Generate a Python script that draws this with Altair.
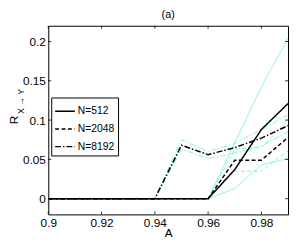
import altair as alt
import pandas as pd

A = [0.90, 0.91, 0.92, 0.93, 0.94, 0.95, 0.96, 0.97, 0.98, 0.99]

r512 = [0, 0, 0, 0, 0, 0, 0, 0.037, 0.088, 0.121]
r512_hi = [0, 0, 0, 0, 0, 0, 0, 0.071, 0.142, 0.204]
r512_lo = [0, 0, 0, 0, 0, 0, 0, 0.013, 0.043, 0.051]

r2048 = [0, 0, 0, 0, 0, 0, 0, 0.049, 0.049, 0.078]
r2048_hi = [0, 0, 0, 0, 0, 0, 0, 0.063, 0.065, 0.100]
r2048_lo = [0, 0, 0, 0, 0, 0, 0, 0.035, 0.035, 0.061]

r8192 = [0, 0, 0, 0, 0, 0.068, 0.056, 0.065, 0.077, 0.093]
r8192_hi = [0, 0, 0, 0, 0, 0.075, 0.060, 0.070, 0.088, 0.107]
r8192_lo = [0, 0, 0, 0, 0, 0.063, 0.051, 0.058, 0.067, 0.085]

labels = ["N=512", "N=2048", "N=8192"]
xticks = [0.90, 0.92, 0.94, 0.96, 0.98]
yticks = [0, 0.05, 0.10, 0.15, 0.20]

means = {"N=512": r512, "N=2048": r2048, "N=8192": r8192}
bands = {
    "N=512": (r512_hi, r512_lo),
    "N=2048": (r2048_hi, r2048_lo),
    "N=8192": (r8192_hi, r8192_lo),
}

rows_m, rows_b = [], []
for n in labels:
    for a, v in zip(A, means[n]):
        rows_m.append({"A": a, "R": v, "N": n})
    hi, lo = bands[n]
    for a, v in zip(A, hi):
        rows_b.append({"A": a, "R": v, "N": n, "g": n + "hi"})
    for a, v in zip(A, lo):
        rows_b.append({"A": a, "R": v, "N": n, "g": n + "lo"})
dm = pd.DataFrame(rows_m)
db = pd.DataFrame(rows_b)

FONT = "Liberation Sans"
W, H = 244, 192

xs = alt.Scale(domain=[0.9, 0.99], nice=False, zero=False)
ys = alt.Scale(domain=[-0.02, 0.22], nice=False, zero=False)
dash = alt.Scale(domain=labels, range=[[1, 0], [4, 2.5], [6, 2, 1.5, 2]])

xaxis = alt.Axis(values=xticks, format="~g", ticks=False, domain=False, grid=False,
                 labelFont=FONT, labelFontSize=12, labelColor="black", labelPadding=3,
                 labelFlush=False,
                 title="A", titleFont=FONT, titleFontSize=12, titleFontWeight="normal",
                 titleColor="black", titlePadding=0)
yaxis = alt.Axis(values=yticks, format="~g", ticks=False, domain=False, grid=False,
                 labelFont=FONT, labelFontSize=12, labelColor="black", labelPadding=3,
                 labelFlush=False, title=None)

legend = alt.Legend(title=None, orient="none", legendX=3, legendY=73,
                    strokeColor="black", fillColor="white", padding=3,
                    symbolType="stroke", symbolSize=400, symbolStrokeWidth=1.5,
                    symbolStrokeColor="black", labelFont=FONT, labelFontSize=10.5,
                    labelColor="black", rowPadding=1, labelOffset=2,
                    cornerRadius=0)

band_layer = alt.Chart(db).mark_line(strokeWidth=1, color="#7ff5dc", clip=True).encode(
    x=alt.X("A:Q", scale=xs, axis=xaxis),
    y=alt.Y("R:Q", scale=ys, axis=yaxis),
    strokeDash=alt.StrokeDash("N:N", scale=dash, sort=labels, legend=legend),
    detail="g:N",
)

mean_layer = alt.Chart(dm).mark_line(strokeWidth=1.5, color="black", clip=True).encode(
    x=alt.X("A:Q", scale=xs),
    y=alt.Y("R:Q", scale=ys),
    strokeDash=alt.StrokeDash("N:N", scale=dash, sort=labels, legend=legend),
)

dx = pd.DataFrame({"t": xticks})
dy = pd.DataFrame({"t": yticks})
tick_b = alt.Chart(dx).mark_rule(color="black", strokeWidth=0.8).encode(
    x=alt.X("t:Q", scale=xs), y=alt.value(H), y2=alt.value(H - 3))
tick_t = alt.Chart(dx).mark_rule(color="black", strokeWidth=0.8).encode(
    x=alt.X("t:Q", scale=xs), y=alt.value(0), y2=alt.value(3))
tick_l = alt.Chart(dy).mark_rule(color="black", strokeWidth=0.8).encode(
    y=alt.Y("t:Q", scale=ys), x=alt.value(0), x2=alt.value(3))
tick_r = alt.Chart(dy).mark_rule(color="black", strokeWidth=0.8).encode(
    y=alt.Y("t:Q", scale=ys), x=alt.value(W), x2=alt.value(W - 3))

ylab = pd.DataFrame({"s": ["R"]})
ysub = pd.DataFrame({"s": ["X \u2192 Y"]})
ytitle = alt.Chart(ylab).mark_text(angle=270, font=FONT, fontSize=12, color="black").encode(
    text="s:N", x=alt.value(-35), y=alt.value(96))
ytitle_sub = alt.Chart(ysub).mark_text(angle=270, font=FONT, fontSize=9, color="black").encode(
    text="s:N", x=alt.value(-28), y=alt.value(77))

chart = alt.layer(
    band_layer, mean_layer, tick_b, tick_t, tick_l, tick_r, ytitle, ytitle_sub
).properties(
    width=W, height=H,
    autosize="none",
    padding={"left": 41, "top": 16, "right": 1, "bottom": 26},
    title=alt.TitleParams("(a)", font=FONT, fontSize=11, fontWeight="normal",
                          color="black", offset=5, anchor="middle"),
).configure_view(stroke="black", strokeWidth=1)

chart.save("out.html", embed_options={"renderer": "svg", "actions": False})
